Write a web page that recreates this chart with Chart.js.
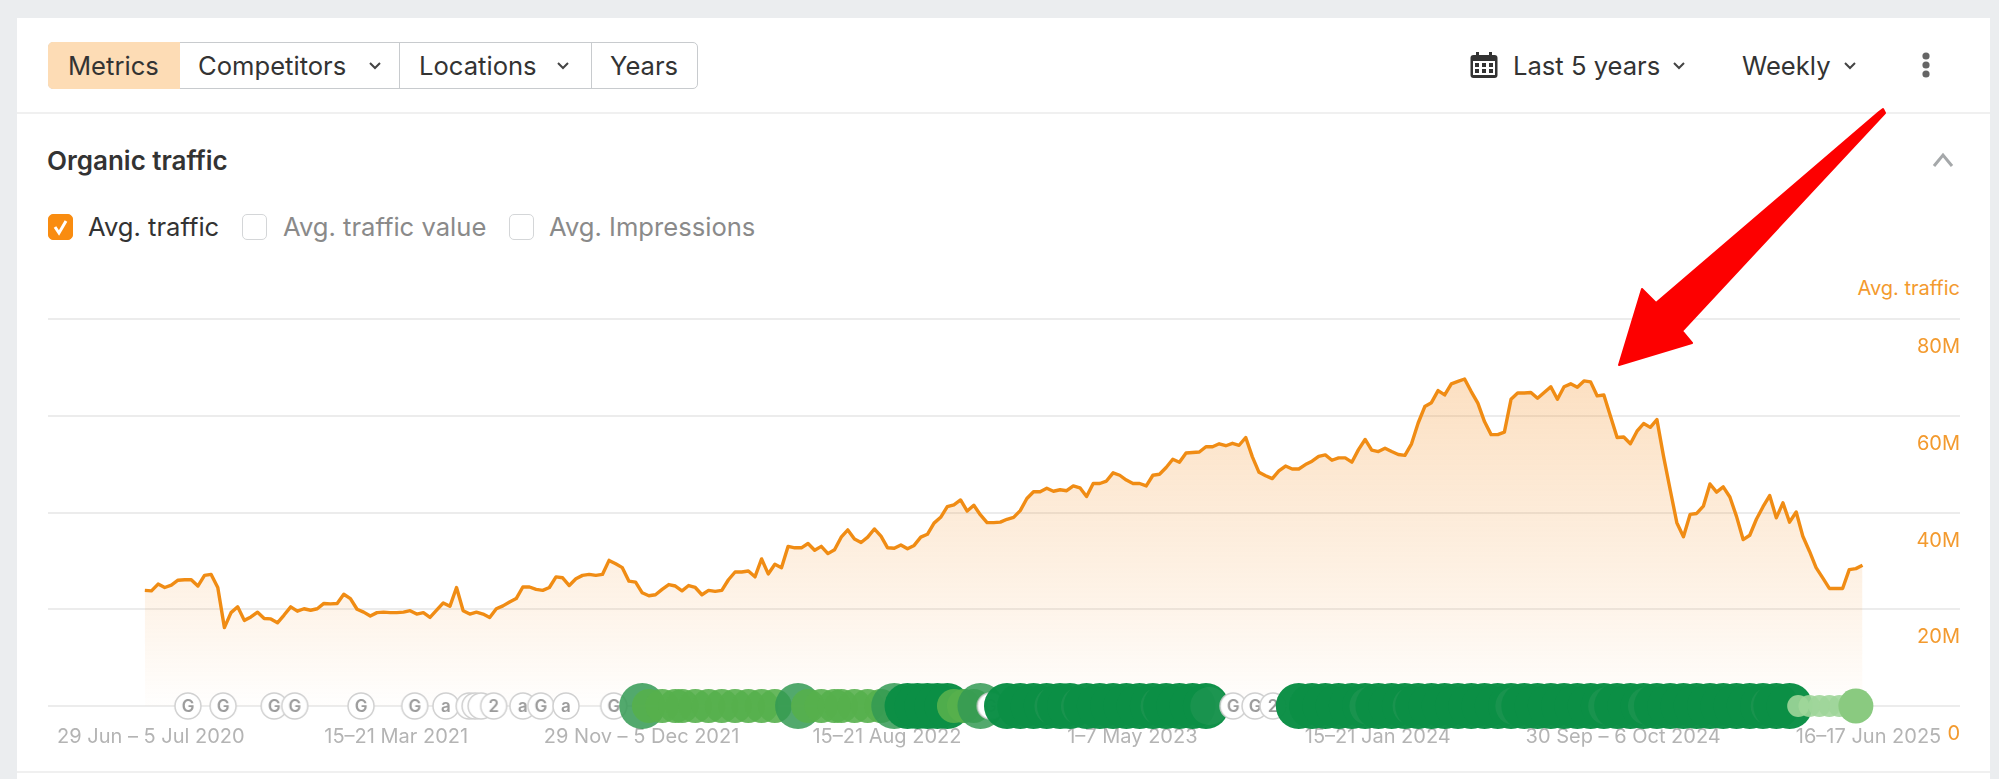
<!DOCTYPE html>
<html>
<head>
<meta charset="utf-8">
<title>Organic traffic</title>
<script src="https://cdn.jsdelivr.net/npm/chart.js@4"></script>
<style>
    html, body { margin: 0; padding: 0; width: 1999px; height: 779px; overflow: hidden; background: #ebedef; font-family: Inter, sans-serif; color: #333; }
    .card { position: absolute; left: 17px; top: 18px; width: 1973px; height: 761px; background: #fff; }
    .sep { position: absolute; left: 17px; width: 1973px; height: 2px; background: #f0f0f0; }
    #chart { position: absolute; left: 0; top: 0; }
    .txt { position: absolute; white-space: nowrap; line-height: 30px; font-size: 25.6px; }
    .group { position: absolute; left: 48px; top: 42px; width: 650px; height: 47px; box-sizing: border-box; border: 1.5px solid #c8cbce; border-radius: 5px; }
    .cell { position: absolute; top: -1.5px; height: 47px; box-sizing: border-box; border-right: 1.5px solid #c8cbce; }
    .box { position: absolute; top: 214px; width: 25px; height: 26px; box-sizing: border-box; border: 1.5px solid #d4d6d8; border-radius: 5px; background: #fff; }
    svg.ic { position: absolute; overflow: visible; }
</style>
</head>
<body>
<div class="card"></div>
<div class="sep" style="top:112px"></div>
<div class="sep" style="top:771px"></div>

<div class="group">
    <div class="cell" style="left:-1.5px;width:132px;background:#fddcb5;border-radius:5px 0 0 5px;border-right:none"></div>
    <div class="cell" style="left:130px;width:221px;border-left:none"></div>
    <div class="cell" style="left:351px;width:192px"></div>
</div>
<div class="txt" style="left:68px;top:51px">Metrics</div>
<div class="txt" style="left:198px;top:51px">Competitors</div>
<div class="txt" style="left:419px;top:51px">Locations</div>
<div class="txt" style="left:610px;top:51px">Years</div>
<svg class="ic" style="left:368px;top:61px" width="14" height="10"><path d="M2 2l5 5 5-5" fill="none" stroke="#444" stroke-width="2"/></svg>
<svg class="ic" style="left:556px;top:61px" width="14" height="10"><path d="M2 2l5 5 5-5" fill="none" stroke="#444" stroke-width="2"/></svg>

<div class="txt" style="left:1513px;top:51px">Last 5 years</div>
<div class="txt" style="left:1742px;top:51px">Weekly</div>
<svg class="ic" style="left:1672px;top:61px" width="14" height="10"><path d="M2 2l5 5 5-5" fill="none" stroke="#444" stroke-width="2"/></svg>
<svg class="ic" style="left:1843px;top:61px" width="14" height="10"><path d="M2 2l5 5 5-5" fill="none" stroke="#444" stroke-width="2"/></svg>
<svg class="ic" style="left:1470px;top:52px" width="28" height="26">
    <rect x="0.5" y="3" width="27" height="23" rx="3" fill="#333"/>
    <rect x="6" y="0" width="3" height="6" fill="#333"/><rect x="19" y="0" width="3" height="6" fill="#333"/>
    <rect x="3" y="9" width="22" height="14" fill="#fff"/>
    <g fill="#333"><rect x="5" y="11" width="4" height="4"/><rect x="12" y="11" width="4" height="4"/><rect x="19" y="11" width="4" height="4"/><rect x="5" y="17" width="4" height="4"/><rect x="12" y="17" width="4" height="4"/><rect x="19" y="17" width="4" height="4"/></g>
</svg>
<svg class="ic" style="left:1921px;top:52px" width="10" height="26"><g fill="#666"><circle cx="5" cy="4" r="3.6"/><circle cx="5" cy="13" r="3.6"/><circle cx="5" cy="22" r="3.6"/></g></svg>

<div class="txt" style="left:47px;top:146px;font-weight:600;font-size:26px">Organic traffic</div>
<svg class="ic" style="left:1932px;top:152px" width="22" height="16"><path d="M2 14l9-11 9 11" fill="none" stroke="#a5a8aa" stroke-width="3"/></svg>

<div class="box" style="left:48px;background:#f98c10;border-color:#f98c10"></div>
<svg class="ic" style="left:48px;top:214px" width="25" height="26"><path d="M7 13l4 6 7-12" fill="none" stroke="#fff" stroke-width="3"/></svg>
<div class="txt" style="left:88px;top:212px">Avg. traffic</div>
<div class="box" style="left:242px"></div>
<div class="txt" style="left:283px;top:212px;color:#8a8a8a">Avg. traffic value</div>
<div class="box" style="left:509px"></div>
<div class="txt" style="left:549px;top:212px;color:#8a8a8a">Avg. Impressions</div>

<div class="txt" style="right:39px;top:273px;font-size:20px;color:#f39a2e">Avg. traffic</div>

<canvas id="chart" width="1999" height="779"></canvas>

<!-- red arrow added on top of the screenshot -->
<svg class="ic" style="left:0;top:0" width="1999" height="779">
    <path d="M1879 112 L1883 109 L1885 113 L1682 331 L1692 343 L1619 365 L1642 289 L1656 303 Z" fill="#fd0000" stroke="#fd0000" stroke-width="2" stroke-linejoin="round"/>
</svg>

<script>
// weekly avg. traffic in millions, first week = 29 Jun 2020
const weeklyTraffic = [
    23.9, 23.8, 25.2, 24.5, 25.0, 26.0, 26.1, 26.1, 24.8, 27.0, 27.2, 24.5, 16.2, 19.3, 20.5, 17.7, 18.4, 19.4, 18.1, 18.0,
    17.2, 18.8, 20.5, 19.6, 20.1, 19.8, 20.1, 21.2, 21.1, 21.2, 23.1, 22.2, 20.0, 19.4, 18.6, 19.3, 19.4, 19.3, 19.3, 19.4,
    19.7, 19.0, 19.3, 18.3, 19.8, 21.3, 20.6, 24.5, 19.7, 19.0, 19.4, 19.0, 18.3, 20.1, 20.7, 21.5, 22.2, 24.6, 24.6, 24.1,
    23.9, 24.5, 26.7, 26.5, 24.9, 26.3, 27.0, 27.2, 27.0, 27.2, 30.1, 29.4, 28.6, 25.8, 25.6, 23.4, 22.8, 23.0, 24.1, 25.1,
    24.8, 23.8, 24.9, 24.5, 23.0, 23.9, 23.7, 23.9, 26.1, 27.7, 27.7, 27.9, 26.7, 30.4, 27.3, 29.3, 28.6, 33.0, 32.7, 32.7,
    33.6, 32.2, 33.0, 31.5, 32.3, 34.9, 36.4, 34.5, 33.8, 34.9, 36.6, 35.1, 32.7, 32.6, 33.3, 32.5, 33.2, 34.9, 35.5, 37.8,
    39.0, 41.2, 41.6, 42.6, 40.3, 41.5, 39.5, 37.9, 37.9, 38.0, 38.6, 39.0, 40.4, 42.9, 44.3, 44.3, 45.0, 44.4, 44.7, 44.5,
    45.5, 45.1, 43.3, 46.0, 46.0, 46.5, 48.2, 47.7, 46.7, 46.0, 46.0, 45.5, 47.7, 47.9, 49.3, 51.0, 50.4, 52.3, 52.4, 52.5,
    53.6, 53.6, 54.2, 53.8, 54.3, 53.9, 55.5, 51.5, 48.3, 47.6, 47.0, 48.6, 49.6, 49.0, 49.0, 49.9, 50.6, 51.6, 51.9, 50.8,
    51.3, 51.3, 50.4, 53.0, 55.1, 52.9, 52.6, 53.3, 52.6, 52.0, 51.8, 54.2, 58.5, 61.9, 62.7, 65.2, 64.3, 66.6, 67.1, 67.6,
    65.0, 62.6, 58.8, 56.1, 56.1, 56.6, 63.4, 64.7, 64.7, 64.8, 63.6, 64.8, 66.0, 63.4, 66.0, 66.6, 65.9, 67.2, 67.0, 64.1,
    64.3, 59.9, 55.5, 55.6, 54.2, 56.8, 58.4, 57.6, 59.2, 51.6, 44.7, 37.9, 35.0, 39.6, 39.8, 41.3, 45.9, 44.2, 45.3, 43.2,
    39.2, 34.4, 35.3, 38.6, 41.2, 43.5, 38.9, 42.0, 38.0, 40.1, 35.1, 32.0, 28.6, 26.5, 24.3, 24.3, 24.3, 28.2, 28.4, 29.1
];

const tickWeeks = [0, 37, 74, 111, 148, 185, 222, 259];
const tickLabels = ['29 Jun – 5 Jul 2020', '15–21 Mar 2021', '29 Nov – 5 Dec 2021', '15–21 Aug 2022', '1–7 May 2023', '15–21 Jan 2024', '30 Sep – 6 Oct 2024', '16–17 Jun 2025'];
const yTicks = [0, 20, 40, 60, 80];

// update markers on the baseline, position in weeks
const markerWeeks = [6.5, 11.8, 19.5, 22.6, 32.6, 40.7, 45.4, 48.9, 49.8, 50.7, 52.6, 57, 59.7, 63.5, 70.7, 127.5, 164.1, 167.4, 170.1];
const markerGlyphs = ['G', 'G', 'G', 'G', 'G', 'G', 'a', '', '', '', '2', 'a', 'G', 'a', 'G', 'G', 'G', 'G', '2'];

// green rank-change blobs
const bigWeeks = [75, 98.5, 113, 126];
const lightWeeks = [76, 78, 80, 81, 83, 85, 87, 89, 91, 93, 95, 100, 102, 104, 105, 107, 109, 111, 122, 123.5, 125];
const darkWeeks = [115, 116.5, 118, 119.5, 121, 130, 132, 134, 136, 138, 139.5, 142, 144, 146, 148, 150, 152, 154, 156, 158, 160,
    174, 176, 178, 180, 182, 184, 186, 188, 190, 192, 194, 196, 198, 200, 202, 204, 206, 208, 210, 212, 214, 216, 218, 220, 222, 224, 226, 228, 230, 232, 234, 236, 238, 240, 242, 244, 246, 248];
const softWeeks = [137, 141, 153, 160.5, 184.5, 191, 206.5, 213.5, 220.5, 226.5, 231.5, 245];
const paleWeeks = [249.3, 251, 252.5, 254, 255.5, 257];
const lastWeeks = [258];

const blobStyles = {
    big: { r: 23, color: 'rgba(52,154,84,0.85)' },
    light: { r: 17, color: 'rgba(86,176,76,0.9)' },
    dark: { r: 23, color: 'rgba(11,143,69,0.98)' },
    soft: { r: 19, color: 'rgba(60,160,100,0.3)' },
    pale: { r: 11, color: 'rgba(160,214,154,0.9)' },
    last: { r: 17.5, color: 'rgba(138,202,128,1)' }
};

function markerImage(glyph) {
    const c = document.createElement('canvas');
    c.width = 30;
    c.height = 30;
    const g = c.getContext('2d');
    g.beginPath();
    g.arc(15, 15, 13, 0, Math.PI * 2);
    g.fillStyle = '#fff';
    g.fill();
    g.strokeStyle = '#d0d0d0';
    g.lineWidth = 1.5;
    g.stroke();
    g.fillStyle = '#9c9c9c';
    g.font = '600 17px Inter';
    g.textAlign = 'center';
    g.textBaseline = 'middle';
    g.fillText(glyph, 15, 16);
    return c;
}

// everything on the baseline goes in time order so later ones cover earlier ones
function buildEvents() {
    const events = [];
    markerWeeks.forEach((w, i) => events.push({ x: w, y: 0, r: 13, image: markerImage(markerGlyphs[i]), color: '#fff' }));
    const addKind = (weeks, kind) => weeks.forEach(w => events.push({ x: w, y: 0, r: blobStyles[kind].r, color: blobStyles[kind].color }));
    addKind(bigWeeks, 'big');
    addKind(lightWeeks, 'light');
    addKind(darkWeeks, 'dark');
    addKind(softWeeks, 'soft');
    addKind(paleWeeks, 'pale');
    addKind(lastWeeks, 'last');
    return events.sort((a, b) => a.x - b.x);
}

document.addEventListener('DOMContentLoaded', function() {
    const ctx = document.getElementById('chart').getContext('2d');

    const fillGradient = ctx.createLinearGradient(0, 370, 0, 700);
    fillGradient.addColorStop(0, 'rgba(243,140,30,0.28)');
    fillGradient.addColorStop(0.7, 'rgba(243,140,30,0.10)');
    fillGradient.addColorStop(1, 'rgba(243,140,30,0.01)');

    const events = buildEvents();

    new Chart(ctx, {
        data: {
            datasets: [{
                type: 'bubble',
                data: events,
                order: 1,
                clip: false,
                backgroundColor: events.map(e => e.color),
                borderWidth: 0,
                pointStyle: events.map(e => e.image || 'circle')
            }, {
                type: 'line',
                data: weeklyTraffic.map((v, i) => ({ x: i, y: v })),
                order: 2,
                borderColor: '#f08c14',
                borderWidth: 3.4,
                borderJoinStyle: 'round',
                backgroundColor: fillGradient,
                fill: 'origin',
                tension: 0,
                pointRadius: 0
            }]
        },
        options: {
            responsive: false,
            animation: false,
            events: [],
            layout: { padding: { left: 48, right: 39, top: 319, bottom: 23 } },
            plugins: { legend: { display: false }, tooltip: { enabled: false } },
            scales: {
                x: {
                    type: 'linear',
                    min: -14.6,
                    max: 273.7,
                    grid: { display: false },
                    border: { display: false },
                    afterBuildTicks: scale => { scale.ticks = tickWeeks.map(w => ({ value: w })); },
                    afterFit: scale => { scale.height = 50; },
                    ticks: {
                        autoSkip: false,
                        maxRotation: 0,
                        labelOffset: 6,
                        padding: 11,
                        color: '#b4b4b4',
                        font: { family: 'Inter', size: 20 },
                        callback: value => tickLabels[tickWeeks.indexOf(value)]
                    }
                },
                y: {
                    position: 'right',
                    min: 0,
                    max: 80,
                    afterBuildTicks: scale => { scale.ticks = yTicks.map(v => ({ value: v })); },
                    afterFit: scale => { scale.width = 0; },
                    grid: { color: '#ececec', lineWidth: 2, drawTicks: false },
                    border: { display: false },
                    ticks: {
                        mirror: true,
                        padding: 0,
                        labelOffset: 28,
                        color: '#f39a2e',
                        font: { family: 'Inter', size: 20 },
                        callback: value => value === 0 ? '0' : value + 'M'
                    }
                }
            }
        }
    });
});
</script>
</body>
</html>
